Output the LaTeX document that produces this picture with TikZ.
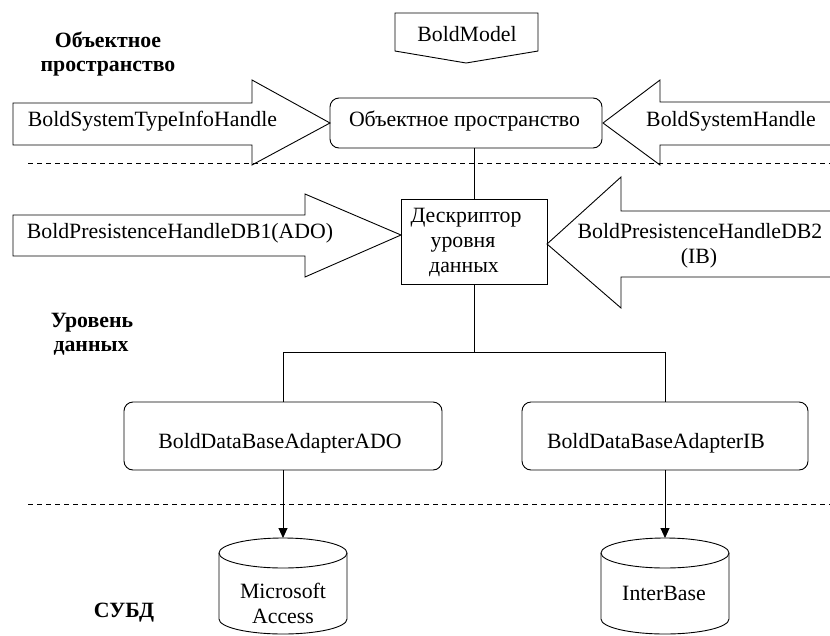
\documentclass[tikz,border=0pt]{standalone}
\usepackage{fontspec}
\setmainfont{Liberation Serif}
\usetikzlibrary{arrows.meta}
\begin{document}
\begin{tikzpicture}[x=1pt,y=-1pt,
  every node/.style={font=\fontsize{21.8}{25.5}\selectfont, inner sep=0pt},
  txt/.style={anchor=base},
  hdr/.style={anchor=base, font=\fontsize{21.8}{25.5}\selectfont\bfseries},
  shp/.style={draw, line width=0.9pt, line join=miter},
  rbox/.style={draw, line width=0.9pt, rounded corners=9pt},
  sqbox/.style={draw, line width=0.9pt},
  sep/.style={line width=0.9pt, dash pattern=on 5pt off 4pt},
  conn/.style={line width=0.9pt},
  arr/.style={conn, -{Triangle[length=10pt,width=9pt]}}]
\useasboundingbox (0,0) rectangle (830,635);

% separators
\draw[sep] (28,163) -- (830,163);
\draw[sep] (28,504) -- (830,504);

% header labels
\node[hdr] (h1a) at (108,47) {Объектное};
\node[hdr] (h1b) at (108,71) {пространство};
\node[hdr] (h2a) at (92,327) {Уровень};
\node[hdr] (h2b) at (91,351) {данных};
\node[hdr] (h3) at (124,617) {СУБД};

% BoldModel off-page connector
\draw[shp] (395,13) -- (538,13) -- (538,51) -- (466,63) -- (395,51) -- cycle;
\node[txt] (bm) at (467,41) {BoldModel};

% object space
\node[rbox, minimum width=272pt, minimum height=50pt] (os) at (466,123) {};
\node[txt] (ost) at (464.5,126) {Объектное пространство};

% left arrow 1
\draw[shp] (13,103) -- (252,103) -- (252,80) -- (330,123) -- (252,165) -- (252,145) -- (13,145) -- cycle;
\node[txt] (a1) at (152.5,126) {BoldSystemTypeInfoHandle};

% right arrow 1
\draw[shp] (830,102) -- (660,102) -- (660,80) -- (603,123) -- (660,165) -- (660,145) -- (830,145);
\node[txt] (a2) at (731,126) {BoldSystemHandle};

% descriptor
\node[sqbox, minimum width=146pt, minimum height=85pt] (dd) at (474,241.5) {};
\node[txt] (dd1) at (466,222) {Дескриптор};
\node[txt] (dd2) at (463,247) {уровня};
\node[txt] (dd3) at (464,272) {данных};

% left arrow 2
\draw[shp] (13,215) -- (305,215) -- (305,194) -- (401,235) -- (305,277) -- (305,256) -- (13,256) -- cycle;
\node[txt] (a3) at (180,238) {BoldPresistenceHandleDB1(ADO)};

% right arrow 2
\draw[shp] (830,211) -- (621,211) -- (621,177) -- (547,244) -- (621,308) -- (621,277) -- (830,277);
\node[txt] (a4a) at (700,238) {BoldPresistenceHandleDB2};
\node[txt] (a4b) at (699,263) {(IB)};

% adapters
\node[rbox, minimum width=318pt, minimum height=68pt] (ado) at (283,436) {};
\node[txt] (adot) at (280,448) {BoldDataBaseAdapterADO};
\node[rbox, minimum width=286pt, minimum height=68pt] (ib) at (665,436) {};
\node[txt] (ibt) at (656,448) {BoldDataBaseAdapterIB};

% cylinders
\draw[shp] (219,553) -- (219,619) arc[start angle=180, end angle=0, x radius=64, y radius=15] -- (347,553);
\draw[shp] (283,553) ellipse[x radius=64, y radius=15];
\coordinate (mat) at (283,538);
\node[txt] (ma1) at (283,598) {Microsoft};
\node[txt] (ma2) at (283,623) {Access};

\draw[shp] (601,553) -- (601,619) arc[start angle=180, end angle=0, x radius=64, y radius=15] -- (729,553);
\draw[shp] (665,553) ellipse[x radius=64, y radius=15];
\coordinate (ibdt) at (665,538);
\node[txt] (ibd) at (664,600) {InterBase};

% connectors
\coordinate (j) at (474,352);
\draw[conn] (dd.north |- os.south) -- (dd.north);
\draw[conn] (dd.south) -- (j);
\draw[conn] (ado.north) -- (ado.north |- j) -- (ib.north |- j) -- (ib.north);
\draw[arr] (ado.south) -- (mat);
\draw[arr] (ib.south) -- (ibdt);
\end{tikzpicture}
\end{document}
